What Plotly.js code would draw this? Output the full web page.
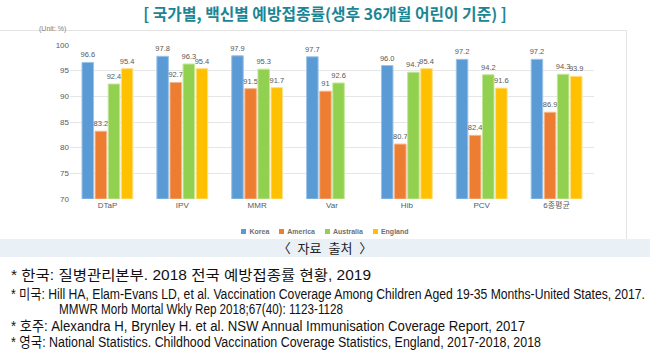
<!DOCTYPE html>
<html><head><meta charset="utf-8">
<script src="https://cdn.plot.ly/plotly-3.0.1.min.js"></script>
<style>
body{margin:0;background:#fff;}
#wrap{position:relative;width:650px;height:358px;overflow:hidden;background:#fff;font-family:"Noto Sans CJK KR",sans-serif;}
#title{position:absolute;top:4px;left:0;width:650px;text-align:center;font-size:15.8px;line-height:20px;font-weight:bold;color:#1c8594;}
#box{position:absolute;left:0;top:30px;width:626px;height:209px;border-top:1px solid #e4e4e4;border-right:1px solid #e4e4e4;}
#chart{position:absolute;left:0;top:0;width:650px;height:240px;}
#unit{position:absolute;left:39px;top:25px;font-family:"Liberation Sans",sans-serif;font-size:7px;color:#7f7f7f;}
#legend{position:absolute;left:0;width:650px;top:227px;text-align:center;font-family:"Liberation Sans",sans-serif;font-size:7px;font-weight:bold;color:#6f6f6f;line-height:9px;}
#legend span.it{margin:0 5px;}
#legend span.sq{display:inline-block;width:5px;height:5px;margin-right:3px;vertical-align:0px;}
#band{position:absolute;left:0;top:239px;width:650px;height:18px;background:#e9f0f6;text-align:center;font-size:13px;line-height:18px;color:#222;word-spacing:4px;}
.fn{position:absolute;left:11px;font-family:"Liberation Sans","Noto Sans CJK KR",sans-serif;font-size:14px;line-height:16px;color:#111;white-space:nowrap;transform-origin:0 50%;}
</style></head>
<body>
<div id="wrap">
  <div id="title">[ 국가별, 백신별 예방접종률(생후 36개월 어린이 기준) ]</div>
  <div id="box"></div>
  <div id="unit">(Unit: %)</div>
  <div id="chart"></div>
  <div id="legend"></div>
  <div id="band">〈 자료 출처 〉</div>
  <div class="fn" data-w="360" style="top:267px">*&nbsp;한국: 질병관리본부. 2018 전국 예방접종률 현황, 2019</div>
  <div class="fn" data-w="634" style="top:286px">*&nbsp;미국: Hill HA, Elam-Evans LD, et al. Vaccination Coverage Among Children Aged 19-35 Months-United States, 2017.</div>
  <div class="fn" data-w="284" style="top:301px;left:59px">MMWR Morb Mortal Wkly Rep 2018;67(40): 1123-1128</div>
  <div class="fn" data-w="514" style="top:318px">*&nbsp;호주: Alexandra H, Brynley H. et al. NSW Annual Immunisation Coverage Report, 2017</div>
  <div class="fn" data-w="530" style="top:334px">*&nbsp;영국: National Statistics. Childhood Vaccination Coverage Statistics, England, 2017-2018, 2018</div>
</div>
<script>
var categories = ["DTaP", "IPV", "MMR", "Var", "Hib", "PCV", "6종평균"];
var seriesNames = ["Korea", "America", "Australia", "England"];
var seriesColors = ["#5B9BD5", "#ED7D31", "#92D050", "#FFC000"];
var korea = [96.6, 97.8, 97.9, 97.7, 96.0, 97.2, 97.2];
var america = [83.2, 92.7, 91.5, 91, 80.7, 82.4, 86.9];
var australia = [92.4, 96.3, 95.3, 92.6, 94.7, 94.2, 94.3];
var england = [95.4, 95.4, 91.7, null, 95.4, 91.6, 93.9];
var koreaLabels = ["96.6", "97.8", "97.9", "97.7", "96.0", "97.2", "97.2"];
var americaLabels = ["83.2", "92.7", "91.5", "91", "80.7", "82.4", "86.9"];
var australiaLabels = ["92.4", "96.3", "95.3", "92.6", "94.7", "94.2", "94.3"];
var englandLabels = ["95.4", "95.4", "91.7", "", "95.4", "91.6", "93.9"];
var yTicks = [70, 75, 80, 85, 90, 95, 100];

var values = [korea, america, australia, england];
var labels = [koreaLabels, americaLabels, australiaLabels, englandLabels];
var lineColors = ["#9cc3e8", "#f5b58c", "#c4e69c", "#ffe08a"];

var traces = seriesNames.map(function(n, i){
  return {
    type: "bar", name: n, x: categories,
    y: values[i].map(function(v){ return v === null ? null : v - 70; }),
    base: 70,
    marker: {color: seriesColors[i], line: {color: lineColors[i], width: 1}},
    text: labels[i], textposition: "outside", cliponaxis: false, constraintext: "none",
    textfont: {family: "Liberation Sans, sans-serif", size: 7.5, color: "#595959"}
  };
});

var layout = {
  width: 650, height: 240,
  margin: {l: 70, r: 56, t: 45, b: 41, pad: 0},
  paper_bgcolor: "rgba(0,0,0,0)", plot_bgcolor: "rgba(0,0,0,0)",
  showlegend: false,
  barmode: "group", bargap: 0.3, bargroupgap: 0.12,
  xaxis: {type: "category", tickfont: {family: "Liberation Sans, Noto Sans CJK KR, sans-serif", size: 8, color: "#595959"}, showline: false, ticks: "", showgrid: false, fixedrange: true},
  yaxis: {range: [70, 100], tickvals: yTicks, ticktext: yTicks.map(String), gridcolor: "#e6e6e6", gridwidth: 1, zeroline: false, showline: false, ticks: "", ticklen: 0,
          tickfont: {family: "Liberation Sans, sans-serif", size: 8, color: "#595959"}, fixedrange: true}
};
Plotly.newPlot("chart", traces, layout, {staticPlot: true, displayModeBar: false});

var lg = document.getElementById("legend");
seriesNames.forEach(function(n, i){
  var it = document.createElement("span"); it.className = "it";
  var sq = document.createElement("span"); sq.className = "sq"; sq.style.background = seriesColors[i];
  it.appendChild(sq); it.appendChild(document.createTextNode(n));
  lg.appendChild(it);
});

document.querySelectorAll(".fn").forEach(function(el){
  var target = parseFloat(el.getAttribute("data-w"));
  var w = el.getBoundingClientRect().width;
  if (w > 0) el.style.transform = "scaleX(" + (target / w) + ")";
});
</script>
</body></html>
